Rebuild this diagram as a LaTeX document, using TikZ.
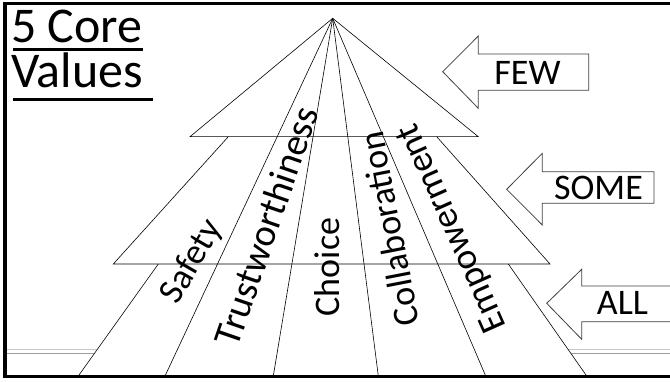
\documentclass[tikz,border=0pt]{standalone}
\usepackage{fontspec}
\setmainfont{Carlito}
\begin{document}
\begin{tikzpicture}[x=1pt,y=1pt,
  pyr/.style={draw=black, line width=0.6pt},
  arrowbox/.style={draw=black!75, line width=0.8pt, fill=white, line join=miter},
  lbl/.style={font=\fontsize{36}{40}\selectfont, inner sep=0pt},
  arrtext/.style={font=\fontsize{36}{40}\selectfont, inner sep=0pt},
  titletext/.style={font=\fontsize{50}{54}\selectfont, inner sep=0pt, anchor=base west},
  frame/.style={line width=3.5pt, line join=miter},
  greyline/.style={line width=0.8pt}]
\useasboundingbox (0,0) rectangle (670,381);

% grey background lines
\draw[greyline, black!22] (7,31.7) -- (670,31.7);
\draw[greyline, black!38] (7,27.7) -- (670,27.7);

% pyramid coordinates
\coordinate (A) at (332.7,362.7);
\coordinate (t1l) at (190,244.3);
\coordinate (t1r) at (478.3,244.3);
\coordinate (t2tl) at (228.3,244.3);
\coordinate (t2tr) at (436.7,244.3);
\coordinate (t2bl) at (113.3,117);
\coordinate (t2br) at (550,117);
\coordinate (t3tl) at (158.3,117);
\coordinate (t3tr) at (508.3,117);
\coordinate (t3bl) at (78.3,5);
\coordinate (t3br) at (586.7,5);
\coordinate (d1) at (165,5);
\coordinate (d2) at (273.3,5);
\coordinate (d3) at (378.3,5);
\coordinate (d4) at (485.7,5);

\fill[white] (t3tl) -- (t3tr) -- (t3br) -- (t3bl) -- cycle;

\draw[pyr] (A) -- (t1l) -- (t1r) -- cycle;
\draw[pyr] (t2tl) -- (t2bl) -- (t2br) -- (t2tr);
\draw[pyr] (t3tl) -- (t3bl);
\draw[pyr] (t3tr) -- (t3br);
\draw[pyr] (A) -- (d1);
\draw[pyr] (A) -- (d2);
\draw[pyr] (A) -- (d3);
\draw[pyr] (A) -- (d4);

% labels
\node[lbl, rotate=60] (safety) at (192,119) {Safety};
\node[lbl, rotate=71, font=\fontsize{38.5}{42}\selectfont] (trust) at (266,155) {Trustworthiness};
\node[lbl, rotate=90] (choice) at (327,114) {Choice};
\node[lbl, rotate=101] (collab) at (389,152) {Collaboration};
\node[lbl, rotate=114, font=\fontsize{37}{42}\selectfont] (empow) at (453,153) {Empowerment};

% arrows
\draw[arrowbox] (442.7,309.3) -- (478.3,345) -- (478.3,327) -- (588.7,327)
  -- (588.7,290.7) -- (478.3,290.7) -- (478.3,272.7) -- cycle;
\node[arrtext] (few) at (527.5,307.7) {FEW};

\draw[arrowbox] (506.7,191.7) -- (542.3,227.7) -- (542.3,209.3) -- (654,209.3)
  -- (654,177.7) -- (542.3,177.7) -- (542.3,156) -- cycle;
\node[arrtext] (some) at (598.5,193) {SOME};

\fill[white] (546.7,77.7) -- (581.7,111.7) -- (581.7,95) -- (670,95)
  -- (670,59.3) -- (581.7,59.3) -- (581.7,41.7) -- cycle;
\draw[arrowbox, fill=none] (670,95) -- (581.7,95) -- (581.7,111.7) -- (546.7,77.7)
  -- (581.7,41.7) -- (581.7,59.3) -- (670,59.3);
\node[arrtext] (all) at (622.5,78) {ALL};

% title
\node[titletext] (t1) at (11,338) {5 Core};
\node[titletext] (t2) at (11,293.7) {Values};
\draw[line width=3pt] (13,331.5) -- (143,331.5);
\draw[line width=3pt] (13,281.5) -- (153,281.5);

% frame
\draw[frame] (670,377.7) -- (5,377.7) -- (5,4.3) -- (670,4.3);
\end{tikzpicture}
\end{document}
